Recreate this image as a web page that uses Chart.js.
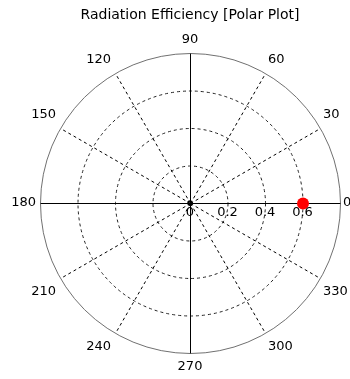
<!DOCTYPE html>
<html>
<head>
<meta charset="utf-8">
<script src="https://cdn.jsdelivr.net/npm/chart.js@4/dist/chart.umd.min.js"></script>
<style>
  html, body { margin: 0; padding: 0; background: #fff; }
  #wrap { width: 350px; height: 379px; }
</style>
</head>
<body>
<div id="wrap"><canvas id="polar"></canvas></div>
<script>
// Polar angle ticks (degrees, counter-clockwise from the right)
const angleTicks = [0, 30, 60, 90, 120, 150, 180, 210, 240, 270, 300, 330];
// Radial rings and their labels
const radiusTicks = [0, 0.2, 0.4, 0.6];
const radiusMax = 0.8;
// Measured radiation efficiency
const pointAngles = [0];
const pointEfficiency = [0.6];

const titleText = 'Radiation Efficiency [Polar Plot]';
const FONT = '"DejaVu Sans", Verdana, sans-serif';

// Radar scale runs clockwise from the top, so order the angles 90, 60, 30, 0, 330 ...
const radarAngles = angleTicks.map((_, k) => ((90 - k * 30) % 360 + 360) % 360);
const radarLabels = radarAngles.map(String);
const radarData = radarAngles.map(a => {
  const j = pointAngles.indexOf(a);
  return j >= 0 ? pointEfficiency[j] : null;
});

// Half-pixel shift keeps the 1px axis lines crisp
const crispPlugin = {
  id: 'crisp',
  beforeDraw(chart) { chart.ctx.save(); chart.ctx.translate(0.5, 0.5); },
  afterDraw(chart) { chart.ctx.restore(); }
};

// Title, angle labels, radius labels and the origin marker
const polarLabels = {
  id: 'polarLabels',
  afterDraw(chart) {
    const ctx = chart.ctx;
    const r = chart.scales.r;
    ctx.save();
    ctx.fillStyle = '#000';

    ctx.font = '14px ' + FONT;
    ctx.textAlign = 'center';
    ctx.textBaseline = 'middle';
    ctx.fillText(titleText, r.xCenter, 15);

    ctx.font = '13px ' + FONT;
    radarAngles.forEach((a, i) => {
      const p = r.getPointPosition(i, r.drawingArea);
      const c = Math.cos(a * Math.PI / 180);
      const s = Math.sin(a * Math.PI / 180);
      let x = p.x, y = p.y;
      if (Math.abs(c) < 0.01) ctx.textAlign = 'center';
      else { ctx.textAlign = c > 0 ? 'left' : 'right'; x += c > 0 ? 3 : -4; }
      if (Math.abs(s) > 0.01) y -= s > 0 ? 13 : -14;
      ctx.textBaseline = 'middle';
      ctx.fillText(String(a), x, y);
    });

    ctx.textAlign = 'center';
    radiusTicks.forEach(v => {
      const x = r.xCenter + r.getDistanceFromCenterForValue(v);
      ctx.fillText(String(v), x, r.yCenter + 10);
    });

    ctx.beginPath();
    ctx.arc(r.xCenter, r.yCenter, 2, 0, Math.PI * 2);
    ctx.lineWidth = 1.5;
    ctx.strokeStyle = '#000';
    ctx.stroke();
    ctx.restore();
  }
};

new Chart(document.getElementById('polar'), {
  type: 'radar',
  data: {
    labels: radarLabels,
    datasets: [{
      data: radarData,
      showLine: false,
      pointRadius: 6,
      pointHoverRadius: 6,
      pointBackgroundColor: '#ff0000',
      pointBorderColor: '#ff0000',
      pointBorderWidth: 0
    }]
  },
  plugins: [crispPlugin, polarLabels],
  options: {
    responsive: true,
    maintainAspectRatio: false,
    animation: false,
    layout: { padding: { left: 40, right: 10, top: 53, bottom: 26 } },
    plugins: { legend: { display: false }, title: { display: false }, tooltip: { enabled: false } },
    scales: {
      r: {
        min: 0,
        max: radiusMax,
        startAngle: 0,
        ticks: { display: false, stepSize: 0.2 },
        pointLabels: { display: false },
        grid: {
          circular: true,
          color: ctx => ctx.tick && ctx.tick.value >= radiusMax ? '#707070' : '#222',
          lineWidth: 1
        },
        border: {
          dash: ctx => ctx.tick && ctx.tick.value >= radiusMax ? [] : [3, 3]
        },
        angleLines: {
          display: true,
          color: '#000',
          lineWidth: 1,
          borderDash: ctx => ctx.index % 3 === 0 ? [] : [3, 3]
        }
      }
    }
  }
});
</script>
</body>
</html>
